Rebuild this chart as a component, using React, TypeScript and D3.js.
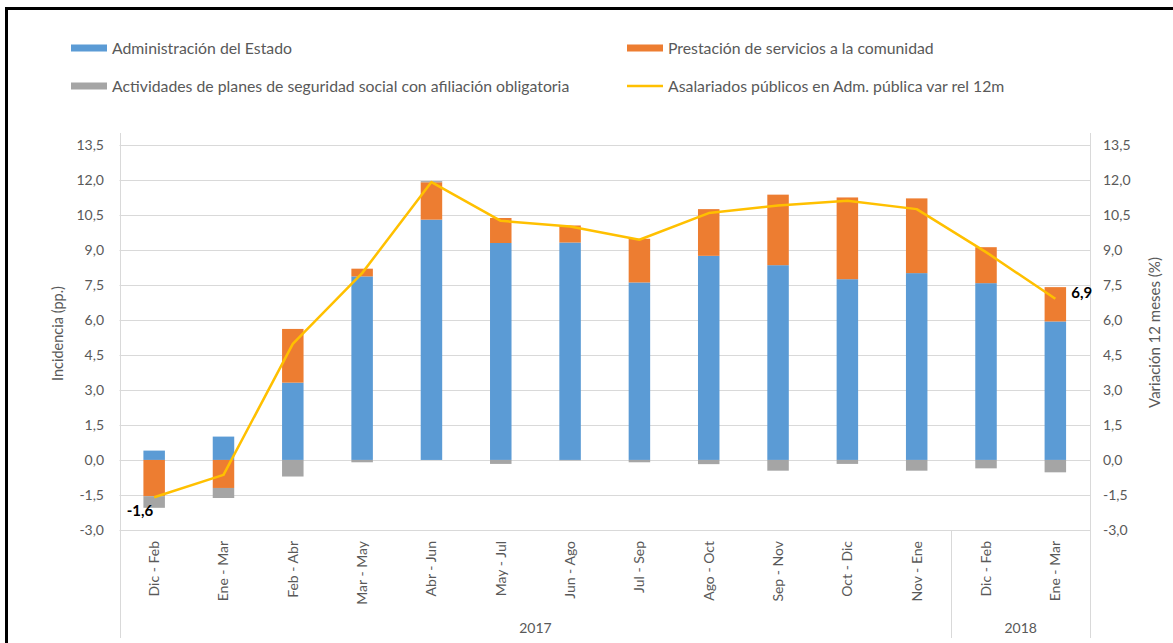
import { useEffect, useRef } from 'react';
import * as d3 from 'd3';

const categories = ['Dic - Feb', 'Ene - Mar', 'Feb - Abr', 'Mar - May', 'Abr - Jun', 'May - Jul', 'Jun - Ago',
  'Jul - Sep', 'Ago - Oct', 'Sep - Nov', 'Oct - Dic', 'Nov - Ene', 'Dic - Feb', 'Ene - Mar'];
const yearLabels = ['2017', '2018'];
const yearCounts = [12, 2];

const adminEstado = [0.4, 1.0, 3.31, 7.86, 10.29, 9.29, 9.31, 7.6, 8.74, 8.34, 7.74, 8.0, 7.57, 5.93];
const prestacion = [-1.55, -1.2, 2.3, 0.33, 1.6, 1.07, 0.73, 1.87, 2.0, 3.02, 3.5, 3.2, 1.54, 1.47];
const seguridad = [-0.5, -0.43, -0.71, -0.1, 0.05, -0.17, -0.02, -0.1, -0.18, -0.46, -0.17, -0.46, -0.36, -0.53];
const asalariados = [-1.6, -0.64, 4.97, 8.0, 11.9, 10.24, 10.0, 9.43, 10.57, 10.9, 11.1, 10.74, 8.9, 6.9];

const seriesNames = ['Administración del Estado', 'Prestación de servicios a la comunidad',
  'Actividades de planes de seguridad social con afiliación obligatoria'];
const lineName = 'Asalariados públicos en Adm. pública var rel 12m';
const yTicks = [-3, -1.5, 0, 1.5, 3, 4.5, 6, 7.5, 9, 10.5, 12, 13.5];

const colors = ['#5B9BD5', '#ED7D31', '#A5A5A5'];
const lineColor = '#FFC000';
const textColor = '#595959';
const font = 'Lato, "Open Sans", sans-serif';

const App = () => {
  const svgRef = useRef<SVGSVGElement>(null);

  useEffect(() => {
    const W = 1173, H = 643;
    const left = 119.5, right = 1090, top = 133, bottom = 530;

    const svg = d3.select(svgRef.current);
    svg.selectAll('*').remove();
    svg.attr('width', W).attr('height', H);

    svg.append('rect').attr('width', W).attr('height', H).attr('fill', '#fff');

    const loc = d3.formatLocale({ decimal: ',', thousands: '.', grouping: [3], currency: ['', ''], minus: '-' });
    const fmt = loc.format('.1f');

    const x = d3.scaleBand<number>().domain(d3.range(categories.length)).range([left, right]);
    const y = d3.scaleLinear().domain([-3, 14]).range([bottom, top]);
    const barW = x.bandwidth() * 0.31;
    const cx = (i: number) => (x(i) as number) + x.bandwidth() / 2;

    // gridlines
    svg.append('g').selectAll('line').data(yTicks).join('line')
      .attr('x1', left).attr('x2', right)
      .attr('y1', d => Math.round(y(d)) + 0.5).attr('y2', d => Math.round(y(d)) + 0.5)
      .attr('stroke', '#D9D9D9').attr('stroke-width', 1);

    // vertical axis lines / category separators
    const sepIdx = [0, yearCounts[0], categories.length];
    svg.append('g').selectAll('line').data(sepIdx).join('line')
      .attr('x1', d => Math.round(x.range()[0] + d * x.step()) + 0.5)
      .attr('x2', d => Math.round(x.range()[0] + d * x.step()) + 0.5)
      .attr('y1', d => (d === yearCounts[0] ? bottom : top)).attr('y2', 638)
      .attr('stroke', '#D9D9D9');

    // tick labels
    const tickL = svg.append('g').attr('font-family', font).attr('font-size', 14).attr('fill', textColor);
    tickL.selectAll('text.l').data(yTicks).join('text').attr('class', 'l')
      .attr('x', 104).attr('y', d => y(d)).attr('dy', '0.35em').attr('text-anchor', 'end').text(d => fmt(d));
    tickL.selectAll('text.r').data(yTicks).join('text').attr('class', 'r')
      .attr('x', 1103).attr('y', d => y(d)).attr('dy', '0.35em').attr('text-anchor', 'start').text(d => fmt(d));

    // axis titles
    svg.append('text').attr('transform', `translate(63,${(top + bottom) / 2 + 2}) rotate(-90)`)
      .attr('text-anchor', 'middle').attr('font-family', font).attr('font-size', 14.5).attr('fill', textColor)
      .text('Incidencia (pp.)');
    svg.append('text').attr('transform', `translate(1160,${(top + bottom) / 2 + 1}) rotate(-90)`)
      .attr('text-anchor', 'middle').attr('font-family', font).attr('font-size', 15).attr('fill', textColor)
      .text('Variación 12 meses (%)');

    // category labels
    svg.append('g').selectAll('text').data(categories).join('text')
      .attr('transform', (_, i) => `translate(${cx(i) + 5},541) rotate(-90)`)
      .attr('text-anchor', 'end').attr('font-family', font).attr('font-size', 14).attr('fill', textColor)
      .text(d => d);

    // year labels
    let start = 0;
    yearLabels.forEach((lab, k) => {
      const a = x.range()[0] + start * x.step();
      const b = x.range()[0] + (start + yearCounts[k]) * x.step();
      svg.append('text').attr('x', (a + b) / 2).attr('y', 633).attr('text-anchor', 'middle')
        .attr('font-family', font).attr('font-size', 14).attr('fill', textColor).text(lab);
      start += yearCounts[k];
    });

    // stacked bars
    const rows = categories.map((_, i) => ({ a: adminEstado[i], p: prestacion[i], s: seguridad[i] }));
    const stack = d3.stack<{ a: number; p: number; s: number }>().keys(['a', 'p', 's'])
      .offset(d3.stackOffsetDiverging);
    const layers = stack(rows);
    layers.forEach((layer, k) => {
      svg.append('g').selectAll('rect').data(layer).join('rect')
        .attr('x', (_, i) => cx(i) - barW / 2)
        .attr('width', barW)
        .attr('y', d => y(Math.max(d[0], d[1])))
        .attr('height', d => Math.abs(y(d[0]) - y(d[1])))
        .attr('fill', colors[k]);
    });

    // line
    const line = d3.line<number>().x((_, i) => cx(i)).y(d => y(d));
    svg.append('path').datum(asalariados).attr('d', line).attr('fill', 'none')
      .attr('stroke', lineColor).attr('stroke-width', 2.5).attr('stroke-linejoin', 'round');

    // data labels
    const last = asalariados.length - 1;
    svg.append('text').attr('x', cx(0) - 1).attr('y', y(asalariados[0]) + 19).attr('text-anchor', 'end')
      .attr('font-family', font).attr('font-size', 15).attr('font-weight', 'bold').attr('fill', '#000')
      .text(fmt(asalariados[0]));
    svg.append('text').attr('x', cx(last) + 16).attr('y', y(asalariados[last]) - 1)
      .attr('font-family', font).attr('font-size', 15).attr('font-weight', 'bold').attr('fill', '#000')
      .text(fmt(asalariados[last]));

    // legend
    const leg = svg.append('g').attr('font-family', font).attr('font-size', 15.8).attr('fill', textColor);
    const legItems = [
      { name: seriesNames[0], color: colors[0], lx: 71, ly: 48, kind: 'bar' },
      { name: seriesNames[1], color: colors[1], lx: 627, ly: 48, kind: 'bar' },
      { name: seriesNames[2], color: colors[2], lx: 71, ly: 86, kind: 'bar' },
      { name: lineName, color: lineColor, lx: 627, ly: 86, kind: 'line' },
    ];
    legItems.forEach(it => {
      if (it.kind === 'bar') {
        leg.append('rect').attr('x', it.lx).attr('y', it.ly - 3.5).attr('width', 36).attr('height', 7).attr('fill', it.color);
      } else {
        leg.append('line').attr('x1', it.lx).attr('x2', it.lx + 36).attr('y1', it.ly).attr('y2', it.ly)
          .attr('stroke', it.color).attr('stroke-width', 2.5);
      }
      leg.append('text').attr('x', it.lx + 41).attr('y', it.ly).attr('dy', '0.35em').text(it.name);
    });

    // outer frame
    svg.append('rect').attr('x', 6.5).attr('y', 8.5).attr('width', W + 20).attr('height', H + 20)
      .attr('fill', 'none').attr('stroke', '#000').attr('stroke-width', 3);
  }, []);

  return <svg ref={svgRef} style={{ position: 'absolute', left: 0, top: 0, display: 'block' }}></svg>;
};

export default App;
